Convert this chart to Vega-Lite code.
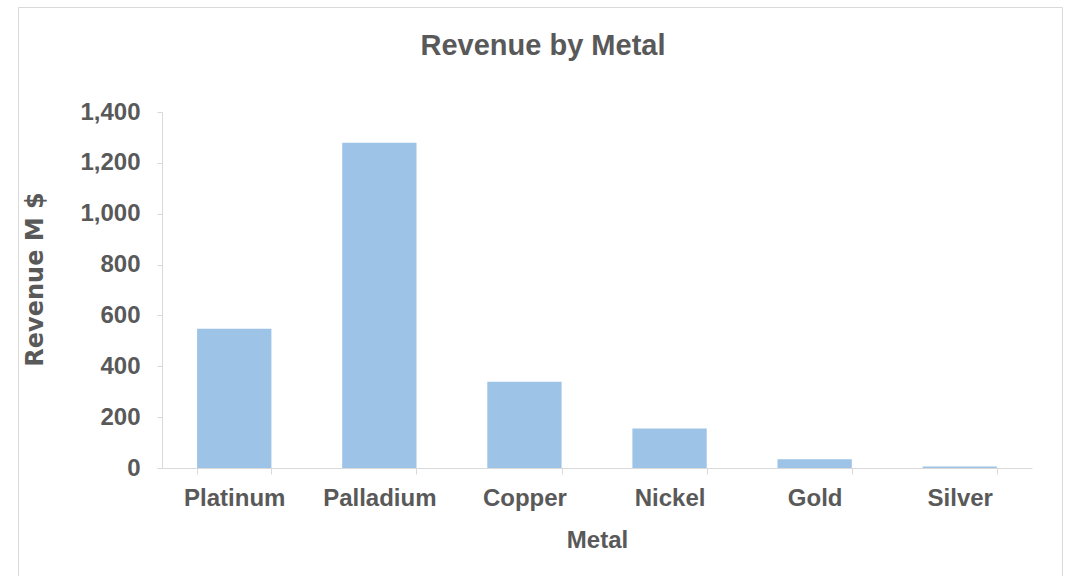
{
  "$schema": "https://vega.github.io/schema/vega-lite/v6.json",
  "width": 1044,
  "height": 569,
  "autosize": {"type": "none"},
  "padding": {"left": 18, "top": 7, "right": 6, "bottom": 0},
  "background": "white",
  "config": {
    "view": {"stroke": "#D9D9D9", "strokeWidth": 1},
    "font": "Liberation Sans"
  },
  "title": {
    "text": "Revenue by Metal",
    "font": "Liberation Sans",
    "fontSize": 29,
    "fontWeight": "bold",
    "color": "#595959",
    "anchor": "middle",
    "baseline": "alphabetic",
    "offset": -77,
    "dx": 3
  },
  "data": {
    "values": [
      {"Metal": "Platinum", "Revenue": 548},
      {"Metal": "Palladium", "Revenue": 1279},
      {"Metal": "Copper", "Revenue": 339},
      {"Metal": "Nickel", "Revenue": 155},
      {"Metal": "Gold", "Revenue": 34},
      {"Metal": "Silver", "Revenue": 6}
    ]
  },
  "mark": {"type": "bar", "color": "#9DC3E6"},
  "encoding": {
    "x": {
      "field": "Metal",
      "type": "nominal",
      "sort": null,
      "scale": {"range": [144, 1014], "paddingInner": 0.488, "paddingOuter": 0.242},
      "axis": {
        "offset": -108,
        "tickBand": "extent",
        "tickSize": 6,
        "tickColor": "#D9D9D9",
        "domainColor": "#D9D9D9",
        "grid": false,
        "labelAngle": 0,
        "labelFont": "Liberation Sans",
        "labelFontSize": 24,
        "labelFontWeight": "bold",
        "labelColor": "#595959",
        "labelPadding": 12,
        "title": "Metal",
        "titleFont": "Liberation Sans",
        "titleFontSize": 24,
        "titleFontWeight": "bold",
        "titleColor": "#595959",
        "titlePadding": 18
      }
    },
    "y": {
      "field": "Revenue",
      "type": "quantitative",
      "scale": {"domain": [0, 1400], "range": [461, 105], "nice": false},
      "axis": {
        "offset": -144,
        "values": [0, 200, 400, 600, 800, 1000, 1200, 1400],
        "format": ",.0f",
        "tickSize": 5,
        "tickColor": "#D9D9D9",
        "domainColor": "#D9D9D9",
        "grid": false,
        "labelFont": "Liberation Sans",
        "labelFontSize": 24,
        "labelFontWeight": "bold",
        "labelColor": "#595959",
        "labelPadding": 17,
        "title": "Revenue M $",
        "titleFont": "DejaVu Sans",
        "titleFontSize": 24,
        "titleFontWeight": "bold",
        "titleColor": "#595959",
        "titleBaseline": "alphabetic",
        "titleX": -120,
        "titleY": 272
      }
    }
  }
}
